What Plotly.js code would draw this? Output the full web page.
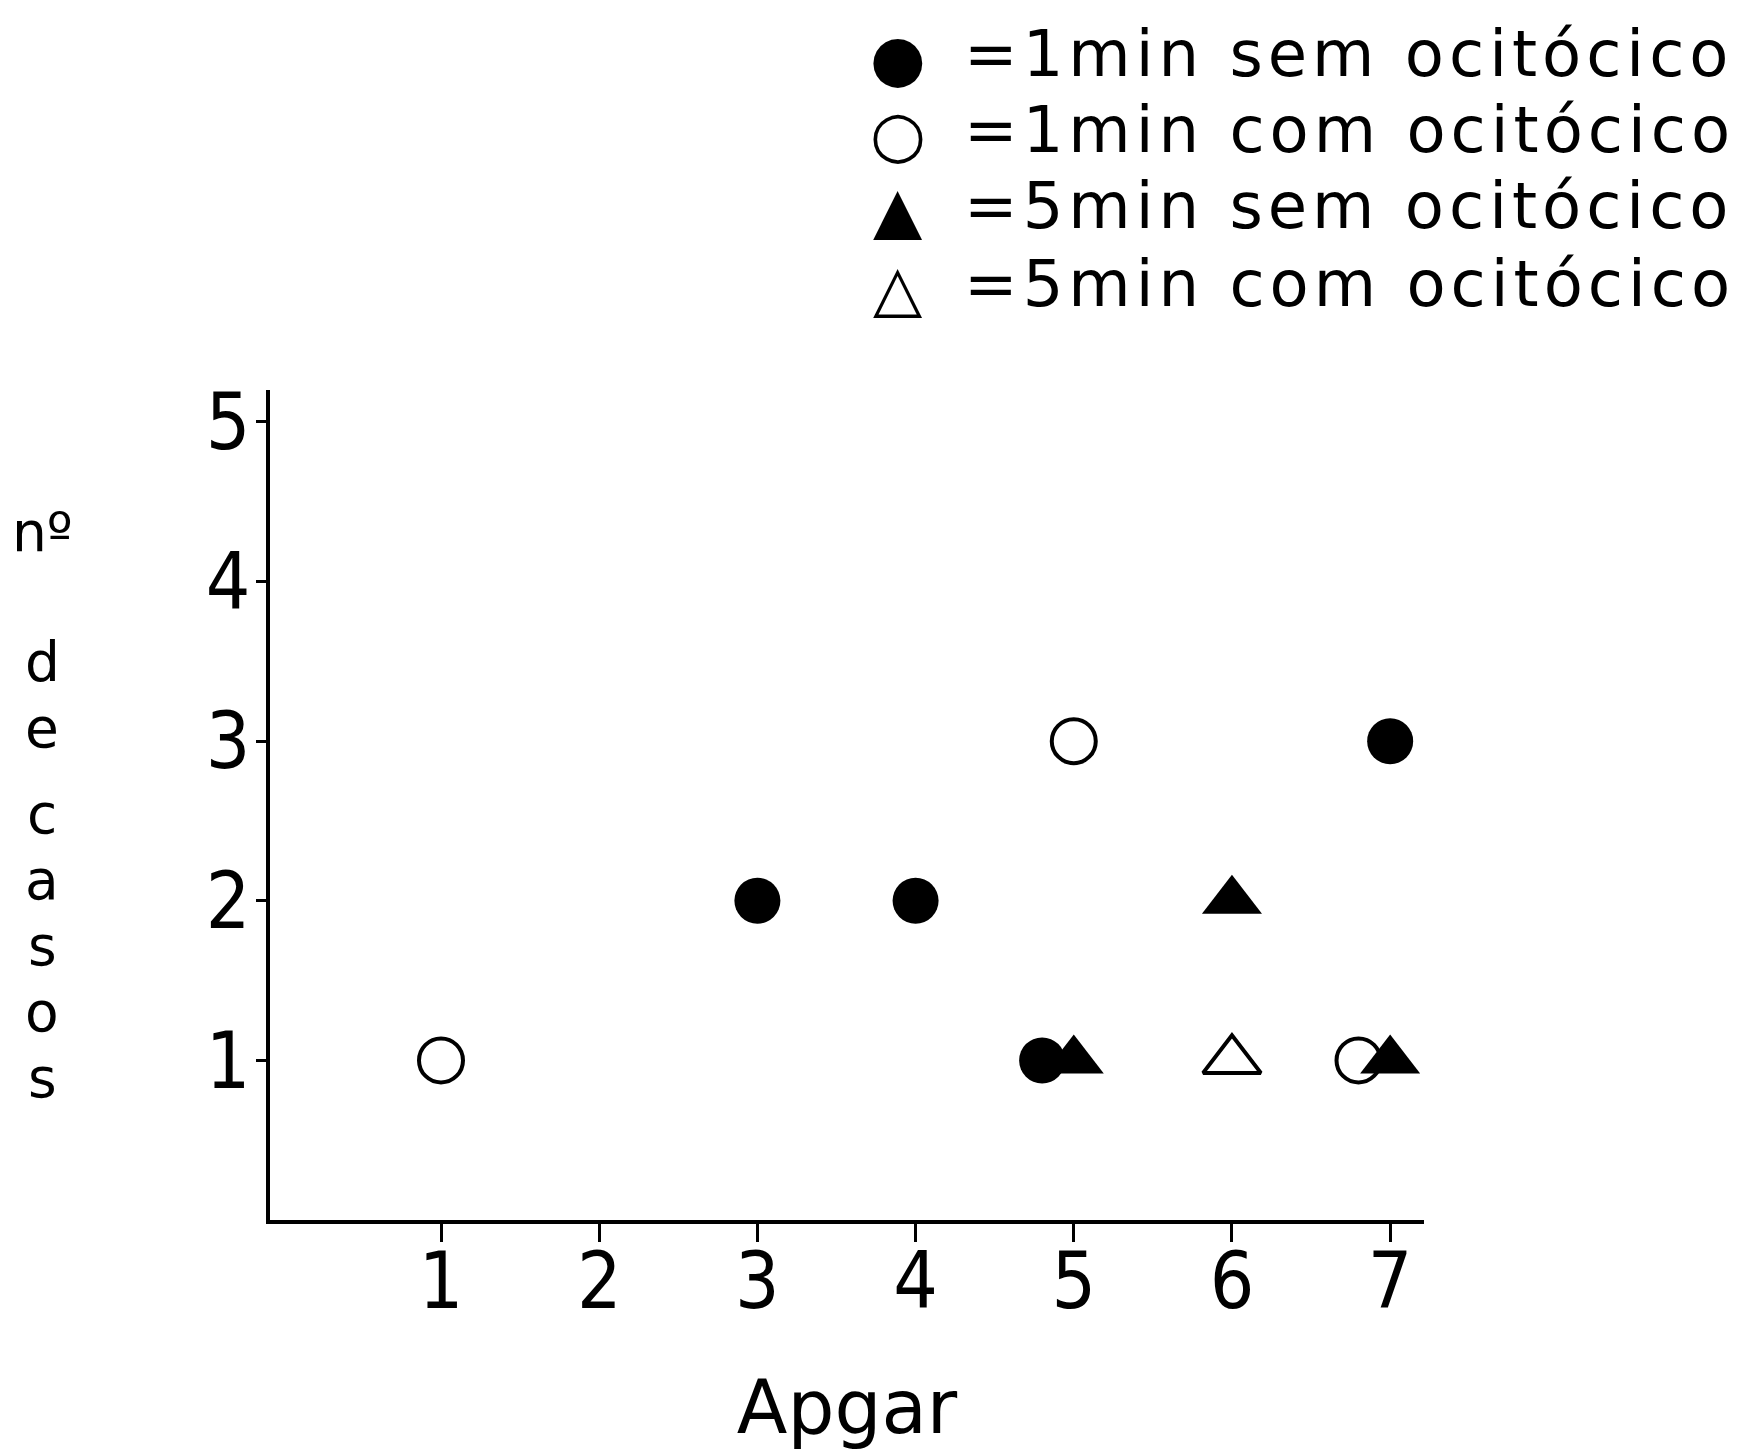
<!DOCTYPE html>
<html><head><meta charset="utf-8">
<script src="https://cdn.plot.ly/plotly-3.0.1.min.js"></script>
<style>html,body{margin:0;padding:0;background:#fff}</style>
</head><body><div id="chart" style="width:1744px;height:1450px"></div>
<script>
// ---- data ----
const seriesNames = ["=1min sem ocitócico", "=1min com ocitócico", "=5min sem ocitócico", "=5min com ocitócico"];
const legendGlyphs = ["●", "○", "▲", "△"];
const min1SemX = [3, 4, 4.8, 7];
const min1SemY = [2, 2, 1, 3];
const min1ComX = [1, 5, 6.8];
const min1ComY = [1, 3, 1];
const min5SemX = [5, 6, 7];
const min5SemY = [1, 2, 1];
const min5ComX = [6];
const min5ComY = [1];
const xTickVals = [1, 2, 3, 4, 5, 6, 7];
const yTickVals = [1, 2, 3, 4, 5];
const xTitle = "Apgar";
const yLabelParts = ["nº", "d", "e", "c", "a", "s", "o", "s"];

// ---- layout geometry (pixels) ----
const W = 1744, H = 1450;
const L = 270, R = 1424, T = 390, B = 1220;
const px = x => (x - L) / (R - L);
const py = y => (B - y) / (B - T);

const tickFont = {family: "DejaVu Sans Condensed, DejaVu Sans, sans-serif", size: 78, color: "#000"};

const traces = [
  {x: min1SemX, y: min1SemY, name: seriesNames[0], mode: "markers", type: "scatter",
   marker: {symbol: "circle", size: 46, color: "#000", line: {width: 0}}},
  {x: min1ComX, y: min1ComY, name: seriesNames[1], mode: "markers", type: "scatter",
   marker: {symbol: "circle", size: 44, color: "#fff", line: {width: 4, color: "#000"}}},
  {x: min5SemX, y: min5SemY, name: seriesNames[2], mode: "markers", type: "scatter",
   marker: {symbol: "triangle-up", size: 52, color: "#000", line: {width: 0}}},
  {x: min5ComX, y: min5ComY, name: seriesNames[3], mode: "markers", type: "scatter",
   marker: {symbol: "triangle-up", size: 50, color: "#fff", line: {width: 4, color: "#000"}}}
];

const annotations = [];
// legend drawn as text rows
const legRowY = [58, 134, 210, 288];
seriesNames.forEach((n, i) => {
  annotations.push({xref: "paper", yref: "paper", x: px(898), y: py(legRowY[i]),
    xanchor: "center", yanchor: "middle", showarrow: false, text: legendGlyphs[i],
    font: {family: "DejaVu Sans, sans-serif", size: 64, color: "#000"}});
  annotations.push({xref: "paper", yref: "paper", x: px(962), y: py(legRowY[i] - 4),
    xanchor: "left", yanchor: "middle", showarrow: false,
    text: `<span style="letter-spacing:5px">${n}</span>`,
    font: {family: "DejaVu Sans, sans-serif", size: 64, color: "#000"}});
});
// stacked y label, one letter per row
const yLabelPix = [536, 666, 732, 818, 884, 950, 1016, 1082];
yLabelParts.forEach((t, i) => {
  annotations.push({xref: "paper", yref: "paper", x: px(42), y: py(yLabelPix[i] - 4),
    xanchor: "center", yanchor: "middle", showarrow: false, text: t,
    font: {family: "DejaVu Sans, sans-serif", size: 55, color: "#000"}});
});

const layout = {
  width: W, height: H,
  margin: {l: L, r: W - R, t: T, b: H - B, pad: 0},
  paper_bgcolor: "#fff", plot_bgcolor: "#fff",
  showlegend: false,
  xaxis: {range: [-0.081, 7.214], tickvals: xTickVals, ticktext: xTickVals.map(String),
    ticks: "outside", ticklen: 18, tickwidth: 3, tickcolor: "#000",
    ticklabelstandoff: -28,
    showline: true, linewidth: 4, linecolor: "#000", showgrid: false, zeroline: false,
    tickfont: tickFont,
    title: {text: xTitle, font: {family: "DejaVu Sans, sans-serif", size: 74, color: "#000"}, standoff: 90}},
  yaxis: {range: [0, 5.2], tickvals: yTickVals, ticktext: yTickVals.map(String),
    ticks: "outside", ticklen: 10, tickwidth: 3, tickcolor: "#000",
    ticklabelstandoff: -10,
    showline: true, linewidth: 4, linecolor: "#000", showgrid: false, zeroline: false,
    tickfont: tickFont},
  annotations: annotations
};

Plotly.newPlot("chart", traces, layout, {displayModeBar: false, staticPlot: true});
</script>
</body></html>
